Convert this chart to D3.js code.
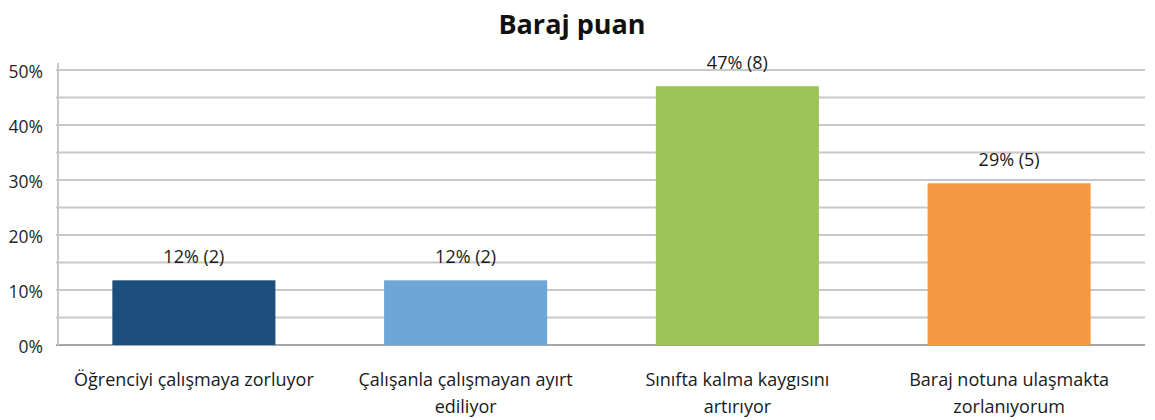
<!DOCTYPE html>
<html>
<head>
<meta charset="utf-8">
<script src="https://cdn.jsdelivr.net/npm/d3@7"></script>
<style>
  html, body { margin: 0; padding: 0; background: #fff; }
  svg { display: block; font-family: "Open Sans", "Noto Sans", sans-serif; }
</style>
</head>
<body>
<div id="chart"></div>
<script>
const TITLE = 'Baraj puan';
const categories = [
  ['Öğrenciyi çalışmaya zorluyor'],
  ['Çalışanla çalışmayan ayırt', 'ediliyor'],
  ['Sınıfta kalma kaygısını', 'artırıyor'],
  ['Baraj notuna ulaşmakta', 'zorlanıyorum'],
];
const counts = [2, 2, 8, 5];
const percents = [11.76, 11.76, 47.06, 29.41];
const barColors = ['#1d4f7c', '#6fa6d8', '#9bc55b', '#f39843'];
const yTicks = [0, 10, 20, 30, 40, 50];
const gridTicks = [0, 5, 10, 15, 20, 25, 30, 35, 40, 45, 50];

const width = 1155;
const height = 420;
const margin = { top: 70, right: 10, bottom: 75, left: 58 };

const svg = d3.select('#chart').append('svg')
  .attr('width', width)
  .attr('height', height);

svg.append('text')
  .attr('x', 572)
  .attr('y', 34)
  .attr('text-anchor', 'middle')
  .attr('font-size', 27)
  .attr('font-weight', 700)
  .attr('fill', '#111')
  .text(TITLE);

const x = d3.scaleBand()
  .domain(d3.range(categories.length))
  .range([margin.left, width - margin.right])
  .paddingInner(0.4)
  .paddingOuter(0.2);

const y = d3.scaleLinear()
  .domain([0, 50])
  .range([height - margin.bottom, margin.top]);

// gridlines
svg.append('g')
  .selectAll('line')
  .data(gridTicks)
  .join('line')
  .attr('x1', margin.left - 2)
  .attr('x2', width - margin.right)
  .attr('y1', (d) => y(d))
  .attr('y2', (d) => y(d))
  .attr('stroke', (d) => (d === 0 ? '#a6a6a6' : '#c8c8c8'))
  .attr('stroke-width', 2);

// y axis line
svg.append('line')
  .attr('x1', margin.left)
  .attr('x2', margin.left)
  .attr('y1', y(50) - 7)
  .attr('y2', y(0))
  .attr('stroke', '#c8c8c8')
  .attr('stroke-width', 2);

const yAxis = svg.append('g')
  .attr('transform', `translate(${margin.left - 12},0)`)
  .call(d3.axisLeft(y).tickValues(yTicks).tickSize(0).tickFormat((d) => `${d}%`));
yAxis.select('.domain').remove();
yAxis.selectAll('text')
  .attr('font-size', 17.5)
  .attr('font-family', '"Open Sans", "Noto Sans", sans-serif')
  .attr('fill', '#262626')
  .attr('dy', '0.4em');

// bars
svg.append('g')
  .selectAll('rect')
  .data(percents)
  .join('rect')
  .attr('x', (d, i) => x(i))
  .attr('y', (d) => y(d))
  .attr('width', x.bandwidth())
  .attr('height', (d) => y(0) - y(d))
  .attr('fill', (d, i) => barColors[i]);

// value labels
svg.append('g')
  .selectAll('text')
  .data(percents)
  .join('text')
  .attr('x', (d, i) => x(i) + x.bandwidth() / 2)
  .attr('y', (d) => y(d) - 17)
  .attr('text-anchor', 'middle')
  .attr('font-size', 18)
  .attr('fill', '#1a1a1a')
  .text((d, i) => `${Math.round(d)}% (${counts[i]})`);

// category labels
const catG = svg.append('g')
  .selectAll('text')
  .data(categories)
  .join('text')
  .attr('x', (d, i) => x(i) + x.bandwidth() / 2)
  .attr('y', 386)
  .attr('text-anchor', 'middle')
  .attr('font-size', 18)
  .attr('fill', '#1a1a1a');

catG.selectAll('tspan')
  .data((d) => d)
  .join('tspan')
  .attr('x', function () { return d3.select(this.parentNode).attr('x'); })
  .attr('dy', (d, j) => (j === 0 ? 0 : 27))
  .text((d) => d);
</script>
</body>
</html>
